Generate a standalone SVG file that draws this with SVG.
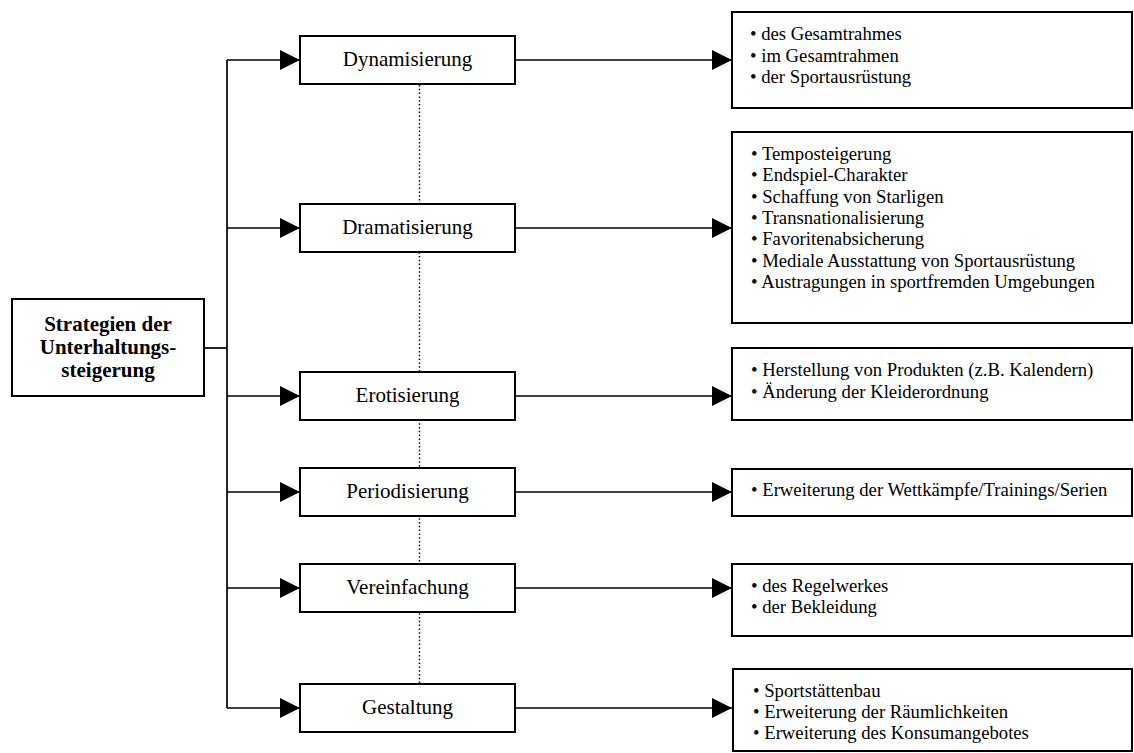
<svg xmlns="http://www.w3.org/2000/svg" width="1134" height="753" viewBox="0 0 1134 753">
  <style>
    .box { fill: #fff; stroke: #000; stroke-width: 2; }
    .wire { fill: none; stroke: #000; stroke-width: 1.7; }
    .dots { fill: none; stroke: #000; stroke-width: 1.4; stroke-dasharray: 1.5 2.3; }
    .node { font-family: "Liberation Serif", "Times New Roman", serif; font-size: 21px; text-anchor: middle; fill: #000; }
    .root { font-family: "Liberation Serif", "Times New Roman", serif; font-size: 21px; font-weight: bold; text-anchor: middle; fill: #000; }
    .list { font-family: "Liberation Serif", "Times New Roman", serif; font-size: 18.7px; fill: #000; }
  </style>
  <defs>
    <marker id="arrow" viewBox="0 0 20 20" refX="20" refY="10" markerWidth="20" markerHeight="20" markerUnits="userSpaceOnUse" orient="auto">
      <path d="M0,0 L20,10 L0,20 Z" fill="#000"/>
    </marker>
  </defs>
  <rect width="1134" height="753" fill="#fff"/>

  <!-- dotted spine linking the strategy boxes -->
  <line class="dots" x1="419.5" y1="85" x2="419.5" y2="684"/>

  <!-- connectors -->
  <g id="connectors">
    <path class="wire" d="M204,348 H227"/>
    <path class="wire" d="M227,60 V708"/>
    <path class="wire" d="M227,60 H300" marker-end="url(#arrow)"/>
    <path class="wire" d="M227,228 H300" marker-end="url(#arrow)"/>
    <path class="wire" d="M227,396 H300" marker-end="url(#arrow)"/>
    <path class="wire" d="M227,492 H300" marker-end="url(#arrow)"/>
    <path class="wire" d="M227,588 H300" marker-end="url(#arrow)"/>
    <path class="wire" d="M227,708 H300" marker-end="url(#arrow)"/>
    <path class="wire" d="M515,60 H732" marker-end="url(#arrow)"/>
    <path class="wire" d="M515,228 H732" marker-end="url(#arrow)"/>
    <path class="wire" d="M515,396 H732" marker-end="url(#arrow)"/>
    <path class="wire" d="M515,492 H732" marker-end="url(#arrow)"/>
    <path class="wire" d="M515,588 H732" marker-end="url(#arrow)"/>
    <path class="wire" d="M515,708 H732" marker-end="url(#arrow)"/>
  </g>

  <!-- root -->
  <g id="root">
    <rect class="box" x="12" y="299" width="192" height="97"/>
    <text class="root" x="108" y="331">Strategien der</text>
    <text class="root" x="108" y="354">Unterhaltungs-</text>
    <text class="root" x="108" y="377">steigerung</text>
  </g>

  <!-- strategies -->
  <g id="dynamisierung">
    <rect class="box" x="300" y="36" width="215" height="48"/>
    <text class="node" x="407.5" y="66">Dynamisierung</text>
  </g>
  <g id="dramatisierung">
    <rect class="box" x="300" y="204" width="215" height="48"/>
    <text class="node" x="407.5" y="234">Dramatisierung</text>
  </g>
  <g id="erotisierung">
    <rect class="box" x="300" y="372" width="215" height="48"/>
    <text class="node" x="407.5" y="402">Erotisierung</text>
  </g>
  <g id="periodisierung">
    <rect class="box" x="300" y="468" width="215" height="48"/>
    <text class="node" x="407.5" y="498">Periodisierung</text>
  </g>
  <g id="vereinfachung">
    <rect class="box" x="300" y="564" width="215" height="48"/>
    <text class="node" x="407.5" y="594">Vereinfachung</text>
  </g>
  <g id="gestaltung">
    <rect class="box" x="300" y="684" width="215" height="48"/>
    <text class="node" x="407.5" y="714">Gestaltung</text>
  </g>

  <!-- measures -->
  <g id="dynamisierung-list">
    <rect class="box" x="732" y="12" width="400" height="96"/>
    <text class="list" x="750" y="40">• des Gesamtrahmes</text>
    <text class="list" x="750" y="61.5">• im Gesamtrahmen</text>
    <text class="list" x="750" y="83">• der Sportausrüstung</text>
  </g>
  <g id="dramatisierung-list">
    <rect class="box" x="732" y="132" width="400" height="191"/>
    <text class="list" x="751" y="160">• Temposteigerung</text>
    <text class="list" x="751" y="181.3">• Endspiel-Charakter</text>
    <text class="list" x="751" y="202.7">• Schaffung von Starligen</text>
    <text class="list" x="751" y="224">• Transnationalisierung</text>
    <text class="list" x="751" y="245.3">• Favoritenabsicherung</text>
    <text class="list" x="751" y="266.7">• Mediale Ausstattung von Sportausrüstung</text>
    <text class="list" x="751" y="288">• Austragungen in sportfremden Umgebungen</text>
  </g>
  <g id="erotisierung-list">
    <rect class="box" x="732" y="348" width="400" height="72"/>
    <text class="list" x="751" y="376">• Herstellung von Produkten (z.B. Kalendern)</text>
    <text class="list" x="751" y="398">• Änderung der Kleiderordnung</text>
  </g>
  <g id="periodisierung-list">
    <rect class="box" x="732" y="469" width="400" height="47"/>
    <text class="list" x="751" y="496">• Erweiterung der Wettkämpfe/Trainings/Serien</text>
  </g>
  <g id="vereinfachung-list">
    <rect class="box" x="732" y="564" width="400" height="72"/>
    <text class="list" x="751" y="592">• des Regelwerkes</text>
    <text class="list" x="751" y="613">• der Bekleidung</text>
  </g>
  <g id="gestaltung-list">
    <rect class="box" x="733" y="669" width="399" height="82"/>
    <text class="list" x="753" y="697">• Sportstättenbau</text>
    <text class="list" x="753" y="718">• Erweiterung der Räumlichkeiten</text>
    <text class="list" x="753" y="739">• Erweiterung des Konsumangebotes</text>
  </g>
</svg>
